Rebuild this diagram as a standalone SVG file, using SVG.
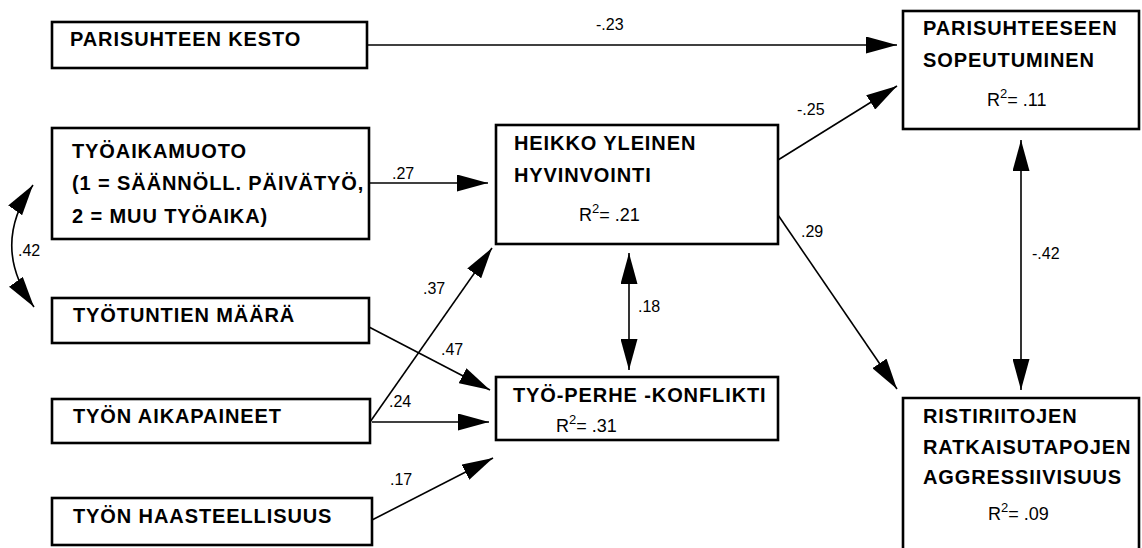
<svg xmlns="http://www.w3.org/2000/svg" width="1142" height="548" viewBox="0 0 1142 548">
<defs>
<style>
.box{fill:#fff;stroke:#000;stroke-width:2.6}
.t{font-family:"Liberation Sans",Arial,sans-serif;font-weight:bold;font-size:20px;letter-spacing:0.9px;fill:#000}
.r{font-family:"Liberation Sans",Arial,sans-serif;font-size:18px;fill:#000}
.lb{font-family:"Liberation Sans",Arial,sans-serif;font-size:16px;fill:#000}
.c{fill:none;stroke:#000;stroke-width:1.6}
</style>
<marker id="ah" viewBox="0 0 31 17" refX="31" refY="8.5" markerWidth="31" markerHeight="17" markerUnits="userSpaceOnUse" orient="auto-start-reverse">
<path d="M0,0 L31,8.5 L0,17 z" fill="#000"/>
</marker>
</defs>
<rect width="1142" height="548" fill="#fff"/>

<g id="connectors">
<line class="c" x1="367" y1="45" x2="897" y2="45" marker-end="url(#ah)"/>
<line class="c" x1="369" y1="183" x2="488" y2="183" marker-end="url(#ah)"/>
<line class="c" x1="369" y1="327" x2="490" y2="390" marker-end="url(#ah)"/>
<line class="c" x1="370" y1="422" x2="492" y2="248" marker-end="url(#ah)"/>
<line class="c" x1="372" y1="422" x2="489" y2="422" marker-end="url(#ah)"/>
<line class="c" x1="372" y1="520" x2="493" y2="458" marker-end="url(#ah)"/>
<line class="c" x1="778" y1="160" x2="897" y2="86" marker-end="url(#ah)"/>
<line class="c" x1="778" y1="215" x2="897" y2="389" marker-end="url(#ah)"/>
<line class="c" x1="629" y1="253" x2="629" y2="370" marker-start="url(#ah)" marker-end="url(#ah)"/>
<line class="c" x1="1021" y1="140" x2="1021" y2="390" marker-start="url(#ah)" marker-end="url(#ah)"/>
<path class="c" d="M33,185 Q-10,246 34,307" marker-start="url(#ah)" marker-end="url(#ah)"/>
<text class="lb" x="596" y="30">-.23</text>
<text class="lb" x="392" y="179">.27</text>
<text class="lb" x="423" y="294">.37</text>
<text class="lb" x="441" y="355">.47</text>
<text class="lb" x="389" y="407">.24</text>
<text class="lb" x="390" y="485">.17</text>
<text class="lb" x="797" y="115">-.25</text>
<text class="lb" x="801" y="237">.29</text>
<text class="lb" x="638" y="312">.18</text>
<text class="lb" x="1032" y="259">-.42</text>
<text class="lb" x="18" y="256">.42</text>
</g>

<g id="kesto">
<rect class="box" x="52" y="22" width="315" height="46"/>
<text class="t" x="70" y="46">PARISUHTEEN KESTO</text>
</g>

<g id="tyoaikamuoto">
<rect class="box" x="52" y="128" width="317" height="111"/>
<text class="t" x="72" y="158">TYÖAIKAMUOTO</text>
<text class="t" x="72" y="190">(1 = SÄÄNNÖLL. PÄIVÄTYÖ,</text>
<text class="t" x="72" y="223">2 = MUU TYÖAIKA)</text>
</g>

<g id="tyotuntien">
<rect class="box" x="52" y="298" width="317" height="45"/>
<text class="t" x="73" y="322">TYÖTUNTIEN MÄÄRÄ</text>
</g>

<g id="aikapaineet">
<rect class="box" x="52" y="399" width="318" height="44"/>
<text class="t" x="73" y="423">TYÖN AIKAPAINEET</text>
</g>

<g id="haasteellisuus">
<rect class="box" x="52" y="498" width="320" height="47"/>
<text class="t" x="73" y="523">TYÖN HAASTEELLISUUS</text>
</g>

<g id="heikko">
<rect class="box" x="496" y="125" width="282" height="119"/>
<text class="t" x="514" y="150">HEIKKO YLEINEN</text>
<text class="t" x="514" y="182">HYVINVOINTI</text>
<text class="r" x="579" y="221">R<tspan dy="-8" font-size="13">2</tspan><tspan dy="8">= .21</tspan></text>
</g>

<g id="konflikti">
<rect class="box" x="496" y="377" width="282" height="63"/>
<text class="t" x="513" y="402">TYÖ-PERHE -KONFLIKTI</text>
<text class="r" x="556" y="432">R<tspan dy="-8" font-size="13">2</tspan><tspan dy="8">= .31</tspan></text>
</g>

<g id="sopeutuminen">
<rect class="box" x="903" y="11" width="236" height="118"/>
<text class="t" x="923" y="35">PARISUHTEESEEN</text>
<text class="t" x="923" y="67">SOPEUTUMINEN</text>
<text class="r" x="987" y="106">R<tspan dy="-8" font-size="13">2</tspan><tspan dy="8">= .11</tspan></text>
</g>

<g id="aggressiivisuus">
<path class="box" d="M903,550 L903,398 L1139,398 L1139,550"/>
<text class="t" x="923" y="423">RISTIRIITOJEN</text>
<text class="t" x="923" y="454">RATKAISUTAPOJEN</text>
<text class="t" x="923" y="484">AGGRESSIIVISUUS</text>
<text class="r" x="988" y="520">R<tspan dy="-8" font-size="13">2</tspan><tspan dy="8">= .09</tspan></text>
</g>
</svg>
